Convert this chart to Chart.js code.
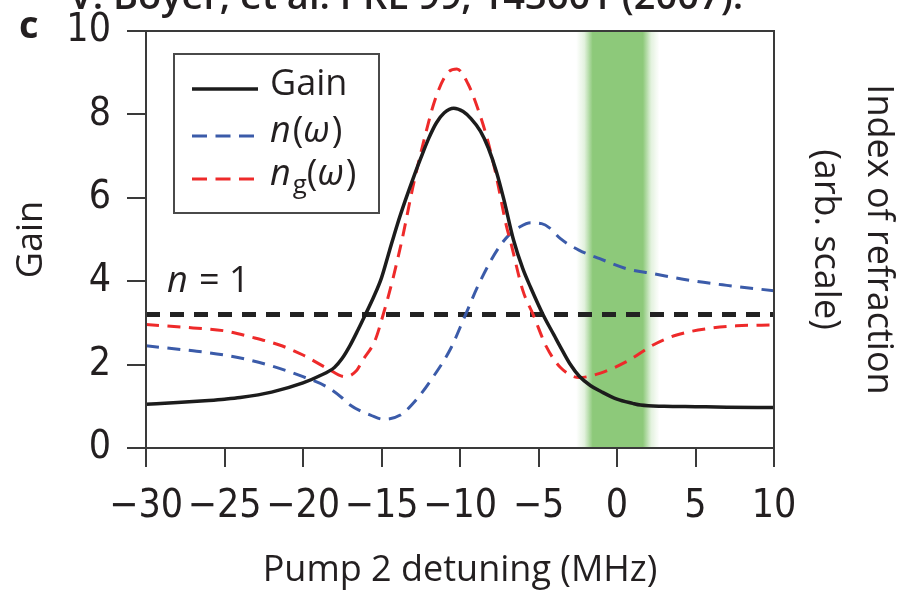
<!DOCTYPE html>
<html>
<head>
<meta charset="utf-8">
<script src="https://cdn.jsdelivr.net/npm/chart.js@4.4.0/dist/chart.umd.min.js"></script>
<style>
  html, body { margin: 0; padding: 0; background: #fff; }
</style>
</head>
<body>
<canvas id="chart" width="901" height="592"></canvas>
<script>
// values (detuning in MHz)
const gainX = [-30, -28, -26, -25, -24, -22, -20, -19, -18, -17.5, -17, -16.5, -16, -15.5, -15, -14.5, -14, -13.5, -13, -12.5, -12, -11.5, -11, -10.4, -9.8, -9.3, -8.7, -8.2, -7.7, -7.2, -6.6, -6, -5.5, -4.7, -4, -3.6, -3, -2.4, -1.7, -1, 0, 1, 1.5, 3, 5, 7, 10];
const gainY = [1.05, 1.09, 1.14, 1.17, 1.21, 1.34, 1.56, 1.72, 1.93, 2.15, 2.46, 2.83, 3.22, 3.62, 4.08, 4.72, 5.35, 5.92, 6.45, 6.95, 7.42, 7.8, 8.04, 8.15, 8.07, 7.9, 7.6, 7.2, 6.65, 5.95, 5.0, 4.3, 3.85, 3.19, 2.7, 2.42, 2.02, 1.72, 1.5, 1.35, 1.17, 1.07, 1.03, 1.0, 0.99, 0.98, 0.97];

const nX = [-30, -27, -25, -23.4, -21.5, -20, -18.5, -17.5, -17, -16.3, -15.7, -14.9, -13.8, -12.8, -11.7, -10.6, -9.7, -8.9, -8.1, -7.45, -6.9, -6.2, -5.5, -4.8, -4.3, -3.6, -2.4, -1.1, 0.6, 2.3, 4.8, 7, 10];
const nY = [2.45, 2.33, 2.23, 2.11, 1.91, 1.71, 1.47, 1.2, 1.03, 0.88, 0.79, 0.69, 0.79, 1.15, 1.71, 2.38, 3.15, 3.85, 4.45, 4.85, 5.1, 5.3, 5.4, 5.38, 5.28, 5.02, 4.74, 4.54, 4.3, 4.18, 4.01, 3.9, 3.77];

const ngX = [-30, -27, -25, -23.4, -21.5, -20, -18.5, -17.3, -16.6, -16.2, -15.4, -14.9, -14.3, -13.7, -13, -12.4, -11.6, -10.85, -10.2, -9.5, -8.83, -8.3, -7.77, -7.03, -6.8, -6, -5.33, -4.5, -3.6, -2.4, -1.1, 0.6, 2.3, 3.8, 5.9, 7.6, 10];
const ngY = [2.96, 2.88, 2.81, 2.67, 2.47, 2.23, 1.92, 1.71, 1.85, 2.1, 2.59, 3.19, 4.02, 4.98, 6.26, 7.22, 8.34, 8.97, 9.09, 8.74, 8.1, 7.46, 6.66, 5.3, 4.98, 3.78, 3.19, 2.43, 1.93, 1.69, 1.79, 2.07, 2.47, 2.71, 2.87, 2.93, 2.95];

const unityX = [-30, 10];
const unityY = [3.2, 3.2];

const xTicks = [-30, -25, -20, -15, -10, -5, 0, 5, 10];
const yTicks = [0, 2, 4, 6, 8, 10];
const bandSolid = [-1.55, 1.65];   // green window
const bandFade = [-2.6, 2.7];

const INK = '#231f20';
const toPts = (xs, ys) => xs.map((x, i) => ({ x, y: ys[i] }));

// pieces of the legend labels: i = italic, sub = subscript
const legendItems = [
    { parts: [{ t: 'Gain' }] },
    { parts: [{ t: 'n', i: true }, { t: '(' }, { t: 'ω', i: true }, { t: ')' }] },
    { parts: [{ t: 'n', i: true }, { t: 'g', sub: true }, { t: '(' }, { t: 'ω', i: true }, { t: ')' }] }
];

function drawParts(ctx, parts, x, y, size) {
    parts.forEach(p => {
        const s = p.sub ? size * 0.72 : size;
        ctx.font = (p.i ? 'italic ' : '') + s + 'px "Open Sans"';
        ctx.fillText(p.t, x, p.sub ? y + size * 0.22 : y);
        x += ctx.measureText(p.t).width + (p.i ? 2 : 0);
    });
}

const band = {
    id: 'band',
    beforeDatasetsDraw(chart) {
        const { ctx, chartArea: a, scales: { x } } = chart;
        const l = x.getPixelForValue(bandFade[0]), r = x.getPixelForValue(bandFade[1]);
        const g = ctx.createLinearGradient(l, 0, r, 0);
        const f = v => (x.getPixelForValue(v) - l) / (r - l);
        const c = a => 'rgba(141,201,122,' + a + ')';
        g.addColorStop(0, c(0));
        g.addColorStop(f((bandFade[0] + bandSolid[0]) / 2), c(0.25));
        g.addColorStop(f(bandSolid[0]), c(1));
        g.addColorStop(f(bandSolid[1]), c(1));
        g.addColorStop(f((bandFade[1] + bandSolid[1]) / 2), c(0.25));
        g.addColorStop(1, c(0));
        ctx.save();
        ctx.fillStyle = g;
        ctx.fillRect(l, a.top, r - l, a.bottom - a.top);
        ctx.restore();
    }
};

const decor = {
    id: 'decor',
    afterDatasetsDraw(chart) {
        const { ctx, chartArea: a } = chart;
        ctx.save();
        // frame
        ctx.strokeStyle = '#3a3a3a';
        ctx.lineWidth = 2;
        ctx.strokeRect(a.left, a.top, a.right - a.left, a.bottom - a.top);

        // legend box
        const bx = 174, by = 54, bw = 205, bh = 159;
        ctx.fillStyle = '#fff';
        ctx.fillRect(bx, by, bw, bh);
        ctx.strokeStyle = '#4a4a4a';
        ctx.strokeRect(bx, by, bw, bh);
        const rowsY = [89, 136, 179];
        legendItems.forEach((it, k) => {
            const ds = chart.data.datasets[k];
            ctx.strokeStyle = ds.borderColor;
            ctx.lineWidth = ds.borderWidth;
            ctx.setLineDash(k === 0 ? [] : [15, 8.5]);
            ctx.beginPath();
            ctx.moveTo(192, rowsY[k]);
            ctx.lineTo(258, rowsY[k]);
            ctx.stroke();
            ctx.setLineDash([]);
            ctx.fillStyle = INK;
            ctx.textBaseline = 'alphabetic';
            drawParts(ctx, it.parts, 270, rowsY[k] + 6, 36);
        });

        // n = 1 label
        ctx.fillStyle = INK;
        drawParts(ctx, [{ t: 'n', i: true }, { t: ' = 1' }], 167, 292, 36);

        // panel letter and the cut off citation line
        ctx.font = 'bold 38px "Open Sans"';
        ctx.fillText('c', 19, 38);
        ctx.font = '600 38px "Open Sans"';
        ctx.fillText('V. Boyer, et al. PRL 99, 143601 (2007).', 69, 9);
        ctx.restore();
    }
};

const tickFont = { family: '"Liberation Sans Narrow", "DejaVu Sans Condensed", "Open Sans"', size: 39, lineHeight: 0.7 };

new Chart(document.getElementById('chart'), {
    type: 'line',
    data: {
        datasets: [
            { label: 'Gain', data: toPts(gainX, gainY), borderColor: '#1c1c1c', borderWidth: 3.5, order: 0 },
            { label: 'n(ω)', data: toPts(nX, nY), borderColor: '#3b5ba9', borderWidth: 3, borderDash: [13, 8.5], order: 2 },
            { label: 'ng(ω)', data: toPts(ngX, ngY), borderColor: '#ee2a2a', borderWidth: 3, borderDash: [13, 8.5], order: 1 },
            { label: 'n = 1', data: toPts(unityX, unityY), borderColor: '#222', borderWidth: 5, borderDash: [14, 10], order: 3 }
        ]
    },
    options: {
        responsive: false,
        animation: false,
        devicePixelRatio: 1,
        layout: { padding: { top: 31, left: 0, right: 0, bottom: 0 } },
        elements: {
            point: { radius: 0 },
            line: { cubicInterpolationMode: 'monotone', fill: false }
        },
        plugins: { legend: { display: false }, tooltip: { enabled: false } },
        scales: {
            x: {
                type: 'linear', min: -30, max: 10,
                afterFit: s => { s.height = 144; },
                afterBuildTicks: s => { s.ticks = xTicks.map(v => ({ value: v })); },
                ticks: { font: { ...tickFont, lineHeight: 1.2 }, color: INK, padding: 16, maxRotation: 0, callback: v => String(v).replace('-', '\u2212') },
                grid: { drawOnChartArea: false, tickLength: 19, color: '#3a3a3a', lineWidth: 2 },
                border: { display: false },
                title: { display: true, text: 'Pump 2 detuning (MHz)', color: INK, font: { family: '"Open Sans"', size: 36 }, padding: { top: 0, bottom: 0 } }
            },
            y: {
                min: 0, max: 10,
                afterFit: s => { s.width = 146; },
                afterBuildTicks: s => { s.ticks = yTicks.map(v => ({ value: v })); },
                ticks: { font: tickFont, color: INK, padding: 16 },
                grid: { drawOnChartArea: false, tickLength: 19, color: '#3a3a3a', lineWidth: 2 },
                border: { display: false },
                title: { display: true, text: 'Gain', color: INK, font: { family: '"Open Sans"', size: 36 }, padding: { top: 10, bottom: 0 } }
            },
            y2: {
                position: 'right', min: 0, max: 10,
                afterFit: s => { s.width = 127; },
                ticks: { display: false },
                grid: { display: false },
                border: { display: false },
                title: { display: true, text: ['Index of refraction', '(arb. scale)'], color: INK, font: { family: '"Open Sans"', size: 36, lineHeight: '53px' }, padding: { top: -4, bottom: 0 } }
            }
        }
    },
    plugins: [band, decor]
});
</script>
</body>
</html>
